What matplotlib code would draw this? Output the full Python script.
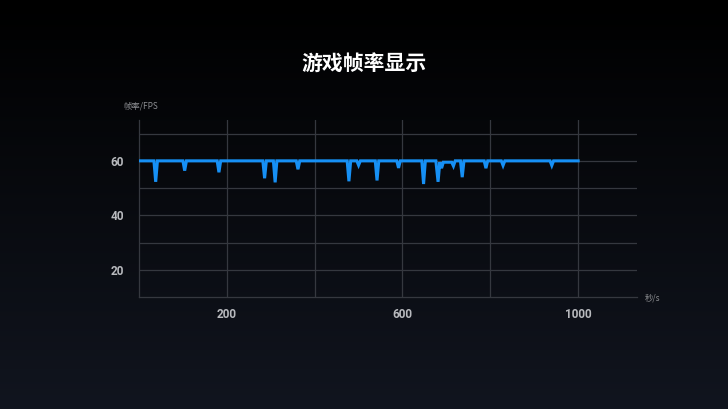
import matplotlib
matplotlib.use("Agg")
import matplotlib.pyplot as plt
import numpy as np

plt.rcParams['font.family'] = ['Noto Sans CJK SC', 'DejaVu Sans']

# data (seconds, frames per second)
seconds = [0,
           34, 38, 42,
           100, 104, 108,
           178, 182, 186,
           282, 286, 290,
           306, 310, 314,
           358, 362, 366,
           474, 478, 482,
           496, 500, 504,
           538, 542, 546,
           587, 591, 595,
           644, 648, 652,
           676, 681, 685, 689, 693,
           712, 716, 720,
           732, 736, 740,
           786, 790, 794,
           825, 829, 833,
           936, 940, 944,
           1000]
fps = [60,
       60, 52.3, 60,
       60, 56.4, 60,
       60, 55.8, 60,
       60, 53.6, 60,
       60, 52.1, 60,
       60, 56.9, 60,
       60, 52.5, 60,
       60, 58.4, 60,
       60, 52.8, 60,
       60, 57.4, 60,
       60, 51.5, 60,
       60, 52.3, 59.5, 57.3, 59.5,
       59.5, 58.1, 60,
       60, 54.0, 60,
       60, 57.3, 60,
       60, 58.3, 60,
       60, 58.3, 60,
       60]

x_grid = [200, 400, 600, 800, 1000]
x_labels = ['200', '', '600', '', '1000']
y_grid = [20, 30, 40, 50, 60, 70]
y_labels = ['20', '', '40', '', '60', '']

W, H = 728, 409
fig = plt.figure(figsize=(W / 100, H / 100), dpi=100)

# background gradient, black at top to dark navy at bottom
bg = fig.add_axes([0, 0, 1, 1], zorder=-10)
grad = np.linspace(0, 1, 256)[:, None]
top = np.array([0, 0, 0]) / 255
bot = np.array([17, 21, 31]) / 255
img = top + (bot - top) * grad[..., None]
bg.imshow(img, aspect='auto', extent=[0, 1, 0, 1], origin='upper')
bg.axis('off')

ax = fig.add_axes([139 / W, 1 - 297 / H, (637 - 139) / W, (297 - 120) / H])
ax.patch.set_alpha(0)

ax.plot(seconds, fps, color='#1690f5', linewidth=2.2, solid_joinstyle='miter', zorder=3)

ax.set_xlim(0, 1134)
ax.set_ylim(10, 75)
ax.set_xticks(x_grid)
ax.set_xticklabels(x_labels)
ax.set_yticks(y_grid)
ax.set_yticklabels(y_labels)
ax.grid(True, color='#35383f', linewidth=0.9)
ax.tick_params(length=0, colors='#b8babe', labelsize=8.5)
ax.tick_params(axis='y', pad=11)
ax.tick_params(axis='x', pad=8)
for lab in ax.get_xticklabels() + ax.get_yticklabels():
    lab.set_fontweight('bold')
    lab.set_family(['Roboto', 'DejaVu Sans'])

for side in ['top', 'right']:
    ax.spines[side].set_visible(False)
for side in ['left', 'bottom']:
    ax.spines[side].set_color('#35383f')
    ax.spines[side].set_linewidth(0.9)

fig.text(364 / W, 1 - 63 / H, '游戏帧率显示', color='white', fontsize=15,
         fontweight='bold', ha='center', va='center')
fig.text(123 / W, 1 - 106 / H, '帧率/FPS', color='#8c8e92', fontsize=6,
         ha='left', va='center')
fig.text(645 / W, 1 - 298 / H, '秒/s', color='#8c8e92', fontsize=6,
         ha='left', va='center')

fig.savefig('out.png', dpi=100)
